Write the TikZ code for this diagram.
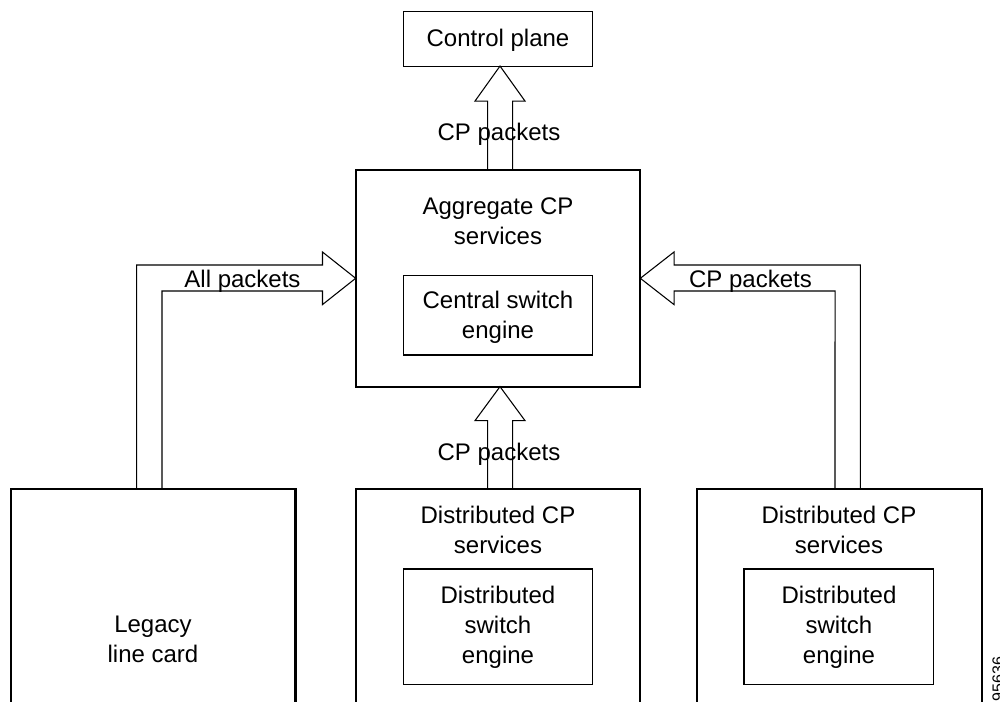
\documentclass[tikz,border=0pt]{standalone}
\usepackage{fontspec}
\setmainfont{Liberation Sans}
\usetikzlibrary{calc}
\tikzset{
  thinbox/.style={draw=black,line width=0.8pt,rectangle,inner sep=0pt,outer sep=0pt,minimum width=142.1pt},
  thickbox/.style={draw=black,line width=1.6pt,rectangle,inner sep=0pt,outer sep=0pt,minimum width=213.5pt},
  caption/.style={font=\fontsize{18}{22.5}\selectfont,align=center,text=black,inner sep=0pt,outer sep=0pt,anchor=base},
  flow/.style={draw=black,line width=0.8pt,line join=miter},
  lbl/.style={font=\fontsize{18}{22.5}\selectfont,text=black,inner sep=0pt,anchor=base}
}
\begin{document}
\begin{tikzpicture}[x=0.75pt,y=-0.75pt]
\useasboundingbox (0,0) rectangle (1000,702);
% boxes
\node[thinbox,minimum height=40.9pt] (control) at (498,38.8) {};
\node[thickbox,minimum height=162.5pt] (aggr) at (498,278.3) {};
\node[thinbox,minimum height=59.3pt] (central) at (498,315.5) {};
\node[thickbox,minimum height=161pt] (legacy) at (153.2,596.6) {};
\node[thickbox,minimum height=161pt] (dist1) at (498,596.6) {};
\node[thickbox,minimum height=161pt] (dist2) at (839.5,596.6) {};
\node[thinbox,minimum height=86.3pt] (eng1) at (498,626.5) {};
\node[thinbox,minimum height=86.3pt] (eng2) at (838.7,626.5) {};
% block arrows
\draw[flow] ($(aggr.north)+(-10.3,0)$) -- ($(control.south)+(-10.3,35)$) -- ($(control.south)+(-23,35)$)
  -- ($(control.south)+(2,0)$) -- ($(control.south)+(27,35)$) -- ($(control.south)+(14.7,35)$) -- ($(aggr.north)+(14.7,0)$);
\draw[flow] ($(dist1.north)+(-10.3,0)$) -- ($(aggr.south)+(-10.3,34)$) -- ($(aggr.south)+(-23,34)$)
  -- ($(aggr.south)+(2,0)$) -- ($(aggr.south)+(27,34)$) -- ($(aggr.south)+(14.7,34)$) -- ($(dist1.north)+(14.7,0)$);
\draw[flow] ($(legacy.north)+(-16.5,0)$) -- ($(aggr.west)+(-219,-13.3)$) -- ($(aggr.west)+(-33.2,-13.3)$)
  -- ($(aggr.west)+(-33.2,-26.3)$) -- (aggr.west) -- ($(aggr.west)+(-33.2,26.3)$) -- ($(aggr.west)+(-33.2,12.7)$)
  -- ($(aggr.west)+(-193.7,12.7)$) -- ($(legacy.north)+(8.8,0)$);
\draw[flow] ($(dist2.north)+(20.8,0)$) -- ($(aggr.east)+(220,-13.3)$) -- ($(aggr.east)+(33.7,-13.3)$)
  -- ($(aggr.east)+(33.7,-26.3)$) -- (aggr.east) -- ($(aggr.east)+(33.7,26.3)$) -- ($(aggr.east)+(33.7,12.7)$)
  -- ($(aggr.east)+(194.7,12.7)$) -- ($(dist2.north)+(-4.5,0)$);
% texts
\node[lbl] (tcontrol) at (498,46.7) {Control plane};
\node[lbl] (tcp1) at (499,141) {CP packets};
\node[lbl] (tcp2) at (499,460.5) {CP packets};
\node[lbl] (tall) at (242.5,287.5) {All packets};
\node[lbl] (tcp3) at (750.5,287.5) {CP packets};
\node[caption] (taggr) at (498,245) {Aggregate CP\\services};
\node[caption] (tcentral) at (498,338.5) {Central switch\\engine};
\node[caption] (tlegacy) at (153,662.7) {Legacy\\line card};
\node[caption] (td1) at (498,553) {Distributed CP\\services};
\node[caption] (te1) at (498,663) {Distributed\\switch\\engine};
\node[caption] (td2) at (839,553) {Distributed CP\\services};
\node[caption] (te2) at (839,663) {Distributed\\switch\\engine};
\node[font=\fontsize{12}{14}\selectfont,rotate=90,anchor=base east,inner sep=0pt] (ref) at (1003.5,656.5) {95636};
\end{tikzpicture}
\end{document}
